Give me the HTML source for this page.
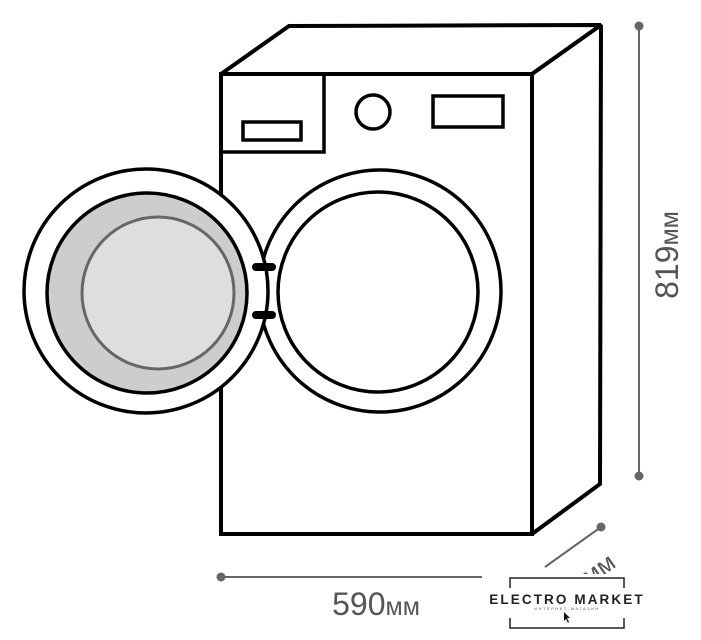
<!DOCTYPE html>
<html><head><meta charset="utf-8"><style>
html,body{margin:0;padding:0;background:#fff;width:701px;height:640px;overflow:hidden}
</style></head><body>
<svg width="701" height="640" viewBox="0 0 701 640" xmlns="http://www.w3.org/2000/svg">
<g fill="none" stroke="#000" stroke-width="4" stroke-linejoin="miter" stroke-miterlimit="1.5">
<polygon points="221,74 289,26 601,25 532,74" fill="#fff"/>
<polygon points="532,74 601,25 600,484 532,534" fill="#fff"/>
<rect x="221" y="74" width="311" height="460" fill="#fff"/>
<rect x="221" y="74" width="103" height="78" stroke-width="3.5"/>
<rect x="243" y="122" width="58" height="18" stroke-width="3.5"/>
<circle cx="373" cy="112" r="17" stroke-width="3.5"/>
<rect x="433" y="96" width="70" height="31" stroke-width="3.5"/>
</g>
<g stroke="#000" stroke-width="3.5">
<circle cx="380" cy="291" r="121" fill="#fff"/>
<circle cx="378" cy="292" r="100" fill="#fff"/>
<circle cx="146" cy="291" r="122" fill="#fff"/>
<circle cx="147" cy="293" r="100" fill="#cdcdcd"/>
<circle cx="158" cy="293" r="76" fill="#dedede" stroke="#666" stroke-width="3"/>
</g>
<line x1="256" y1="267" x2="272" y2="267" stroke="#000" stroke-width="8" stroke-linecap="round"/>
<line x1="256" y1="315" x2="272" y2="315" stroke="#000" stroke-width="8" stroke-linecap="round"/>
<g stroke="#666" stroke-width="2" fill="#666">
<line x1="639" y1="26" x2="639" y2="476"/>
<circle cx="639" cy="26" r="4.5" stroke="none"/>
<circle cx="639" cy="476" r="4.5" stroke="none"/>
<line x1="221" y1="577" x2="482" y2="577"/>
<circle cx="221" cy="577" r="4.5" stroke="none"/>
<line x1="601" y1="527" x2="545" y2="567"/>
<circle cx="601" cy="527" r="4.5" stroke="none"/>
</g>
<g font-family="Liberation Sans, sans-serif" fill="#555">
<text x="376" y="615" font-size="32" text-anchor="middle">590<tspan font-size="25">мм</tspan></text>
<text transform="translate(678,255) rotate(-90)" font-size="32" text-anchor="middle">819<tspan font-size="25">мм</tspan></text>
<text transform="translate(586,588) rotate(-35)" font-size="25" text-anchor="middle">500мм</text>
</g>
<rect x="500" y="574" width="140" height="66" fill="#fff"/>
<g stroke="#222" stroke-width="1.5" fill="none">
<polyline points="510,588 510,578 624,578 624,588"/>
<polyline points="510,618 510,628 624,628 624,618"/>
</g>
<text x="567" y="604" font-family="Liberation Sans, sans-serif" font-size="13.5" font-weight="bold" letter-spacing="2.1" text-anchor="middle" fill="#222">ELECTRO MARKET</text>
<text x="567" y="610" font-family="Liberation Sans, sans-serif" font-size="4" letter-spacing="1.5" text-anchor="middle" fill="#555">ИНТЕРНЕТ-МАГАЗИН</text>
<path d="M564,612 L564,621 L566,619 L568,623 L569,622 L567,618 L570,618 Z" fill="#111"/>
</svg>
</body></html>
